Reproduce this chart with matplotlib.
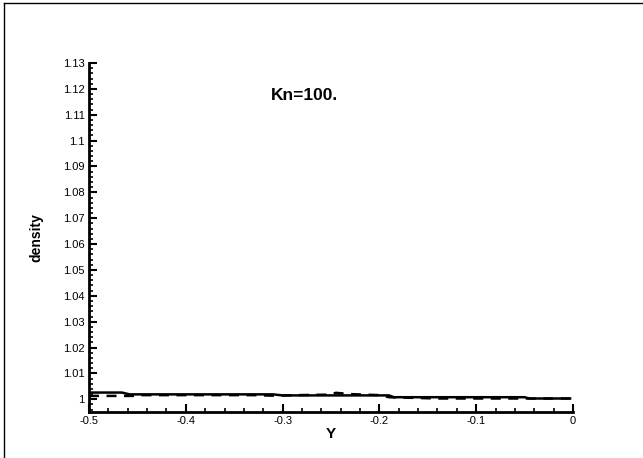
import numpy as np
import matplotlib.pyplot as plt
from matplotlib.lines import Line2D
from matplotlib.ticker import AutoMinorLocator

plt.rcParams['font.family'] = ['Liberation Sans', 'DejaVu Sans']

# solid curve (step-like profile)
y_solid = [-0.5, -0.466, -0.458, -0.31, -0.30, -0.19, -0.185, -0.05, -0.045, -0.003]
rho_solid = [1.0026, 1.0026, 1.0019, 1.0019, 1.0015, 1.0015, 1.0008, 1.0008, 1.0003, 1.0003]

# dashed curve
y_dash = [-0.5, -0.455, -0.45, -0.33, -0.31, -0.27, -0.25, -0.245, -0.23, -0.2, -0.19, -0.14, -0.05, -0.045, -0.003]
rho_dash = [1.0013, 1.0013, 1.0016, 1.0016, 1.0014, 1.0017, 1.0018, 1.0025, 1.002, 1.0016, 1.0008, 1.0003, 1.0003, 1.0003, 1.0003]

xticks = [-0.5, -0.4, -0.3, -0.2, -0.1, 0]
xlabels = ['-0.5', '-0.4', '-0.3', '-0.2', '-0.1', '0']
yticks = [1.0, 1.01, 1.02, 1.03, 1.04, 1.05, 1.06, 1.07, 1.08, 1.09, 1.1, 1.11, 1.12, 1.13]
ylabels = ['1', '1.01', '1.02', '1.03', '1.04', '1.05', '1.06', '1.07', '1.08', '1.09', '1.1', '1.11', '1.12', '1.13']

fig = plt.figure(figsize=(6.43, 4.58), dpi=100)
ax = fig.add_axes([0.1384, 0.1011, 0.7527, 0.7613])

ax.plot(y_solid, rho_solid, color='black', lw=1.8)
ax.plot(y_dash, rho_dash, color='black', lw=1.8, ls=(0, (4, 3)))

ax.set_xlim(-0.5, 0)
ax.set_ylim(0.9952, 1.13)
ax.set_xticks(xticks)
ax.set_xticklabels(xlabels)
ax.set_yticks(yticks)
ax.set_yticklabels(ylabels)
ax.xaxis.set_minor_locator(AutoMinorLocator(5))
ax.yaxis.set_minor_locator(AutoMinorLocator(5))

for s in ['top', 'right']:
    ax.spines[s].set_visible(False)
for s in ['left', 'bottom']:
    ax.spines[s].set_linewidth(2)

ax.tick_params(which='major', direction='in', length=6, width=1.5, labelsize=8, pad=3)
ax.tick_params(which='minor', direction='in', length=3, width=1.2)

ax.set_xlabel('Y', fontsize=11, fontweight='bold', labelpad=1)
ax.set_ylabel('density', fontsize=10, fontweight='bold', labelpad=14)
ax.text(-0.277, 1.1176, 'Kn=100.', fontsize=12.5, fontweight='bold', ha='center', va='center')

# outer frame
fig.add_artist(Line2D([0.006, 0.006], [0, 0.994], transform=fig.transFigure, color='black', lw=1))
fig.add_artist(Line2D([0.006, 1], [0.994, 0.994], transform=fig.transFigure, color='black', lw=1))

fig.savefig('out.png', dpi=100)
